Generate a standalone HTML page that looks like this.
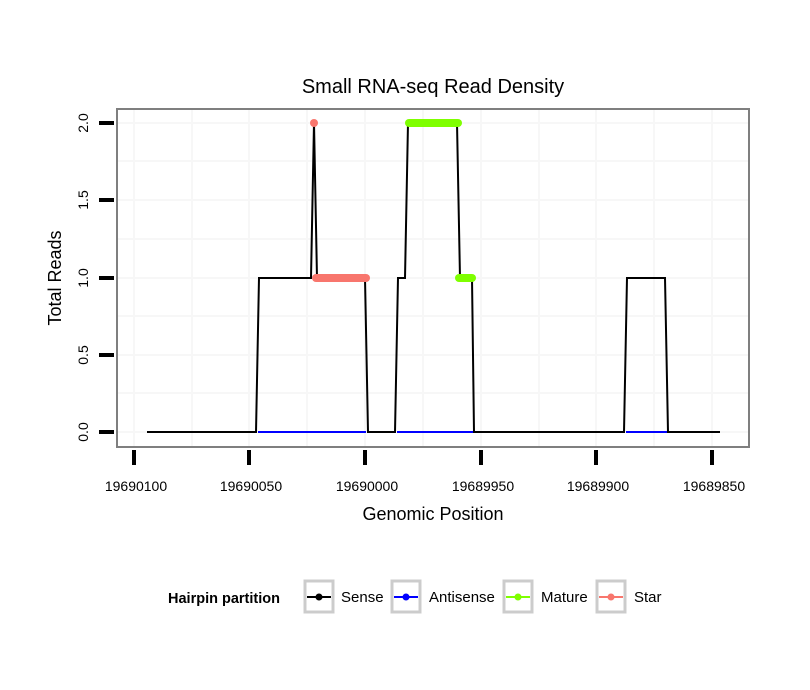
<!DOCTYPE html>
<html><head><meta charset="utf-8"><style>
body{margin:0;background:#fff}
svg{display:block;font-family:"Liberation Sans",sans-serif}
</style></head><body>
<svg width="810" height="690" viewBox="0 0 810 690">
<rect width="810" height="690" fill="#fff"/>
<text x="433" y="93" font-size="20" text-anchor="middle">Small RNA-seq Read Density</text>
<g stroke="#f7f7f7" stroke-width="2">
<line x1="117" x2="749" y1="161" y2="161"/><line x1="117" x2="749" y1="239" y2="239"/><line x1="117" x2="749" y1="316" y2="316"/><line x1="117" x2="749" y1="393" y2="393"/>
<line x1="117" x2="749" y1="123" y2="123"/><line x1="117" x2="749" y1="200" y2="200"/><line x1="117" x2="749" y1="278" y2="278"/><line x1="117" x2="749" y1="355" y2="355"/><line x1="117" x2="749" y1="432" y2="432"/>
<line y1="109" y2="447" x1="192" x2="192"/><line y1="109" y2="447" x1="307" x2="307"/><line y1="109" y2="447" x1="423" x2="423"/><line y1="109" y2="447" x1="539" x2="539"/><line y1="109" y2="447" x1="654" x2="654"/>
<line y1="109" y2="447" x1="134" x2="134"/><line y1="109" y2="447" x1="249" x2="249"/><line y1="109" y2="447" x1="365" x2="365"/><line y1="109" y2="447" x1="481" x2="481"/><line y1="109" y2="447" x1="596" x2="596"/><line y1="109" y2="447" x1="712" x2="712"/>
</g>
<polyline fill="none" stroke="#000" stroke-width="2" points="147,432 256,432 259,278 311,278 314,123 317,278 365,278 368,432 395,432 398,278 405,278 408,123 457,123 460,278 472,278 474,432 624,432 627,278 665,278 668,432 720,432"/>
<g stroke="#0000ff" stroke-width="2"><line x1="258" x2="366" y1="432" y2="432"/><line x1="397" x2="473" y1="432" y2="432"/><line x1="626" x2="667" y1="432" y2="432"/></g>
<line x1="316" x2="366" y1="278" y2="278" stroke="#f8766d" stroke-width="8" stroke-linecap="round"/>
<circle cx="314" cy="123" r="4" fill="#f8766d"/>
<g stroke="#7fff00" stroke-width="8" stroke-linecap="round"><line x1="409" x2="458" y1="123" y2="123"/><line x1="459" x2="472" y1="278" y2="278"/></g>
<rect x="117" y="109" width="632" height="338" fill="none" stroke="#7f7f7f" stroke-width="2"/>
<g stroke="#000" stroke-width="4">
<line x1="99" x2="114" y1="123" y2="123"/><line x1="99" x2="114" y1="200" y2="200"/><line x1="99" x2="114" y1="278" y2="278"/><line x1="99" x2="114" y1="355" y2="355"/><line x1="99" x2="114" y1="432" y2="432"/>
<line y1="450" y2="465" x1="134" x2="134"/><line y1="450" y2="465" x1="249" x2="249"/><line y1="450" y2="465" x1="365" x2="365"/><line y1="450" y2="465" x1="481" x2="481"/><line y1="450" y2="465" x1="596" x2="596"/><line y1="450" y2="465" x1="712" x2="712"/>
</g>
<g font-size="14" text-anchor="middle">
<text transform="translate(88,123) rotate(-90)">2.0</text><text transform="translate(88,200) rotate(-90)">1.5</text><text transform="translate(88,278) rotate(-90)">1.0</text><text transform="translate(88,355) rotate(-90)">0.5</text><text transform="translate(88,432) rotate(-90)">0.0</text>
<text x="136" y="491">19690100</text><text x="251" y="491">19690050</text><text x="367" y="491">19690000</text><text x="483" y="491">19689950</text><text x="598" y="491">19689900</text><text x="714" y="491">19689850</text>
</g>
<text x="433" y="520" font-size="18" text-anchor="middle">Genomic Position</text>
<text transform="translate(61,278) rotate(-90)" font-size="18" text-anchor="middle">Total Reads</text>
<text x="168" y="603" font-size="14.5" font-weight="bold">Hairpin partition</text>
<g stroke="#cccccc" stroke-width="3" fill="#fff">
<rect x="305" y="581" width="28" height="31"/><rect x="392" y="581" width="28" height="31"/><rect x="504" y="581" width="28" height="31"/><rect x="597" y="581" width="28" height="31"/>
</g>
<g stroke-width="2">
<line x1="307" x2="331" y1="597" y2="597" stroke="#000"/><circle cx="319" cy="597" r="3.5" fill="#000"/>
<line x1="394" x2="418" y1="597" y2="597" stroke="#00f"/><circle cx="406" cy="597" r="3.5" fill="#00f"/>
<line x1="506" x2="530" y1="597" y2="597" stroke="#7fff00"/><circle cx="518" cy="597" r="3.5" fill="#7fff00"/>
<line x1="599" x2="623" y1="597" y2="597" stroke="#f8766d"/><circle cx="611" cy="597" r="3.5" fill="#f8766d"/>
</g>
<g font-size="15">
<text x="341" y="602">Sense</text><text x="429" y="602">Antisense</text><text x="541" y="602">Mature</text><text x="634" y="602">Star</text>
</g>
</svg>
</body></html>
